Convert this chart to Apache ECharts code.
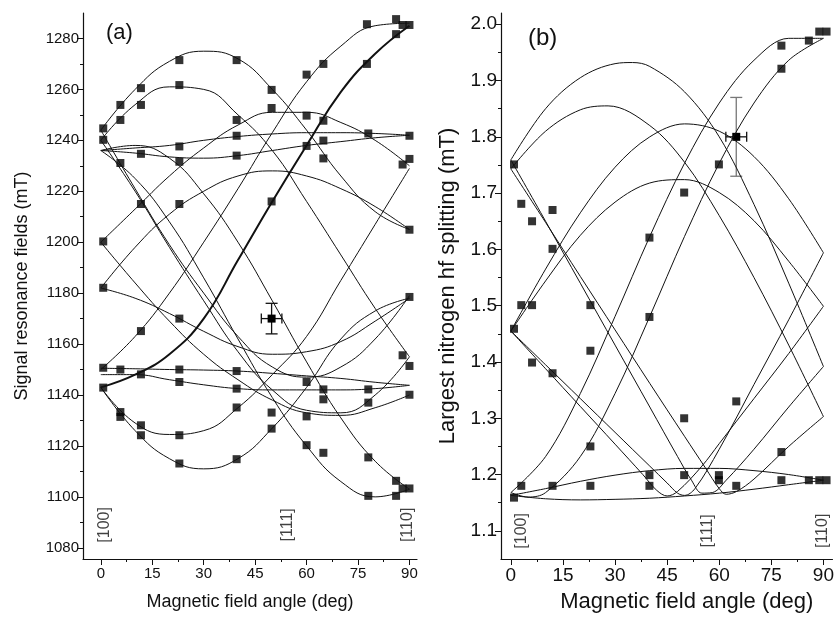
<!DOCTYPE html>
<html>
<head>
<meta charset="utf-8">
<script src="https://cdn.jsdelivr.net/npm/echarts@6/dist/echarts.min.js"></script>
<style>
  html, body { margin: 0; padding: 0; background: #fff; }
  #chart { width: 837px; height: 618px; }
</style>
</head>
<body>
<div id="chart"></div>
<script>
// ---- panel (a): signal resonance fields (mT) vs angle ----
const angA = [0, 10, 20, 30, 40, 50, 60, 70, 80, 90];
const archTop = [1244, 1260, 1271, 1275, 1272, 1260, 1244, 1226, 1212, 1205];
const archTop2 = [1240, 1254, 1261, 1260, 1250, 1236, 1216, 1195, 1174, 1155];
const flatHi1 = [1236, 1237, 1238, 1240, 1241.5, 1242.5, 1243, 1243, 1242.7, 1242];
const flatHi2 = [1236, 1235, 1233.5, 1233, 1234, 1236, 1238, 1239.5, 1241, 1242];
const archMid = [1182, 1198, 1211, 1220, 1226, 1228, 1226, 1221, 1214, 1205];
const archMid2 = [1200, 1213, 1226, 1237, 1246, 1251, 1251, 1247, 1240, 1230];
const bowlMid = [1182, 1178, 1172, 1165, 1159, 1156, 1157, 1161, 1169, 1178];
const fallA = [1236, 1238, 1233, 1219, 1200, 1177, 1153, 1131, 1114, 1103];
const fallB = [1236, 1225, 1208, 1186, 1162, 1139, 1120, 1106, 1100, 1103];
const fallC = [1240, 1220, 1198, 1177, 1157, 1142, 1134, 1133, 1140, 1155];
const fallD = [1244, 1221, 1199, 1180, 1163, 1151, 1147, 1151, 1162, 1179];
const fallE = [1200, 1184, 1169, 1156, 1146, 1138, 1133, 1132, 1135, 1140];
const riseThick = [1143, 1148, 1156, 1170, 1193, 1216, 1238, 1259, 1274, 1285];
const riseThin = [1150, 1163, 1180, 1200, 1221, 1243, 1263, 1277, 1285, 1286];
const flatLo1 = [1150.5, 1150.3, 1150, 1149.8, 1149.4, 1148.5, 1147.5, 1146.5, 1145, 1143.8];
const flatLo2 = [1148, 1148, 1146, 1144, 1142.5, 1142, 1142, 1142, 1142.5, 1143.8];
const bowlLo1 = [1143, 1126, 1115, 1111, 1115, 1127, 1143, 1162, 1173, 1178];
const bowlLo2 = [1143, 1129, 1124.5, 1126, 1135, 1148, 1163, 1185, 1207, 1229];
const curvesA = [archTop, archTop2, flatHi1, flatHi2, archMid, archMid2, bowlMid, fallA, fallB,
  fallC, fallD, fallE, riseThin, flatLo1, flatLo2, bowlLo1, bowlLo2];

const pointsA = [[0.7,1244.7],[0.7,1240.2],[5.7,1253.9],[5.7,1248],[11.7,1260.5],[11.7,1253.9],
  [22.9,1271.5],[22.9,1261.7],[39.6,1271.5],[49.8,1259.8],[49.8,1252.7],[39.6,1248],[39.6,1241.8],
  [39.6,1234],[22.9,1237.6],[22.9,1231.6],[11.7,1234.7],[5.7,1231.1],[60,1249.7],[60,1237.8],
  [64.9,1247.7],[64.9,1239.9],[64.9,1232.9],[60,1265.8],[64.9,1270],[77.6,1285.6],[77.6,1270],
  [86.1,1287.6],[86.1,1281.7],[88,1285.3],[90,1285.3],[78,1242.7],[90,1241.8],[90,1232.7],
  [88,1230.5],[49.8,1216],[11.7,1215],[22.9,1215],[0.7,1200.3],[90,1204.9],[0.7,1182.1],
  [90,1178.5],[22.9,1170],[11.7,1165.1],[88,1155.6],[90,1151.4],[0.7,1150.7],[5.7,1150],
  [22.9,1150],[39.6,1149.4],[11.7,1148.1],[60,1145.1],[22.9,1145.1],[39.6,1142.5],[64.9,1142.2],
  [78,1142.2],[90,1140.1],[0.7,1142.9],[64.9,1138.3],[78,1137],[39.6,1135.1],[49.8,1133.1],
  [60,1131.6],[5.7,1133.3],[5.7,1131.4],[11.7,1128.1],[11.7,1124.2],[22.9,1124.2],[49.8,1126.8],
  [60,1120.3],[64.9,1117.3],[78,1115.5],[39.6,1114.8],[22.9,1113.1],[78,1100.4],[86.1,1106.3],
  [86.1,1100.4],[88,1103.3],[90,1103.3]];
// [angle, value, angle error, value error]
const errA = [[49.8, 1170, 3, 6]];

// ---- panel (b): largest nitrogen hf splitting (mT) vs angle ----
const hfUp1 = [[0,1.759],[10,1.85],[20,1.905],[30,1.93],[35,1.932],[40,1.925],[50,1.88],[60,1.80],[70,1.68],[80,1.54],[90,1.392]];
const hfDn1 = [[0,1.759],[10,1.65],[20,1.54],[30,1.43],[40,1.32],[48,1.232],[52,1.19],[55,1.167],[58,1.168],[62,1.19],[70,1.245],[80,1.32],[90,1.392]];
const hfUp2 = [[0,1.743],[10,1.81],[20,1.848],[28,1.855],[40,1.82],[50,1.755],[60,1.66],[70,1.55],[80,1.43],[90,1.303]];
const hfDn2 = [[0,1.743],[10,1.648],[20,1.552],[30,1.457],[40,1.362],[50,1.268],[56,1.212],[60,1.175],[62,1.165],[65,1.17],[70,1.192],[80,1.25],[90,1.303]];
const hfUp3 = [[0,1.455],[10,1.565],[20,1.665],[30,1.746],[40,1.800],[50,1.823],[60,1.81],[70,1.765],[80,1.69],[90,1.594]];
const hfDn3 = [[0,1.455],[10,1.395],[20,1.335],[30,1.275],[40,1.215],[45,1.185],[48,1.167],[50,1.163],[53,1.175],[60,1.245],[70,1.36],[80,1.475],[90,1.594]];
const hfUp4 = [[0,1.455],[10,1.544],[20,1.625],[30,1.684],[40,1.718],[50,1.724],[60,1.701],[70,1.651],[80,1.579],[90,1.499]];
const hfDn4 = [[0,1.455],[10,1.388],[20,1.321],[30,1.254],[38,1.2],[42,1.172],[45,1.162],[48,1.17],[55,1.215],[60,1.255],[70,1.335],[80,1.415],[90,1.499]];
const hfRise1 = [[0,1.168],[10,1.232],[20,1.344],[30,1.481],[40,1.623],[50,1.753],[60,1.860],[70,1.936],[80,1.975],[90,1.975]];
const hfRise2 = [[0,1.168],[5,1.16],[10,1.168],[20,1.232],[30,1.344],[40,1.481],[50,1.623],[60,1.753],[70,1.860],[80,1.936],[90,1.975]];
const hfLow1 = [[0,1.163],[10,1.175],[20,1.188],[30,1.199],[40,1.207],[50,1.211],[60,1.211],[70,1.207],[80,1.200],[90,1.190]];
const hfLow2 = [[0,1.163],[10,1.157],[20,1.155],[30,1.156],[40,1.158],[50,1.162],[60,1.167],[70,1.174],[80,1.182],[90,1.190]];
const curvesB = [hfUp1, hfDn1, hfUp2, hfDn2, hfUp3, hfDn3, hfUp4, hfDn4, hfRise1, hfRise2, hfLow1, hfLow2];

const pointsB = [[0.9,1.751],[3,1.681],[6.1,1.650],[12,1.670],[12,1.601],[39.9,1.621],[49.9,1.701],
  [59.9,1.751],[77.9,1.921],[77.9,1.962],[85.8,1.971],[88.8,1.987],[90.9,1.987],[0.9,1.459],
  [3,1.501],[6.1,1.501],[6.1,1.399],[12,1.380],[22.9,1.501],[22.9,1.420],[22.9,1.250],[39.9,1.480],
  [49.9,1.300],[64.9,1.330],[77.9,1.240],[0.9,1.159],[3,1.180],[12,1.180],[22.9,1.180],[39.9,1.199],
  [39.9,1.180],[49.9,1.199],[59.9,1.199],[59.9,1.19],[64.9,1.180],[77.9,1.19],[85.8,1.19],
  [88.8,1.19],[90.9,1.19]];
const errB = [[64.9, 1.80, 3, 0.07]];

// tick positions
const angTicks = [0, 15, 30, 45, 60, 75, 90];
const angMinor = [7.5, 22.5, 37.5, 52.5, 67.5, 82.5];
const fieldTicks = [1080, 1100, 1120, 1140, 1160, 1180, 1200, 1220, 1240, 1260, 1280];
const fieldMinor = [1090, 1110, 1130, 1150, 1170, 1190, 1210, 1230, 1250, 1270];
const hfTicks = [1.1, 1.2, 1.3, 1.4, 1.5, 1.6, 1.7, 1.8, 1.9, 2.0];
const hfMinor = [1.15, 1.25, 1.35, 1.45, 1.55, 1.65, 1.75, 1.85, 1.95];

const orientNames = ['[100]', '[111]', '[110]'];
const orientA = [[1.2, 1089], [54.6, 1089], [89.6, 1089]];
const orientB = [[3, 1.10], [56.6, 1.10], [89.7, 1.10]];

const FONT = 'Liberation Sans, Arial, sans-serif';
const INK = '#111';

const chart = echarts.init(document.getElementById('chart'), null, { renderer: 'canvas' });

function mainX(grid, min, max, fs, title, gap, pad) {
  return {
    type: 'value', gridIndex: grid, min: min, max: max, position: 'bottom',
    name: title, nameLocation: 'middle', nameGap: gap,
    nameTextStyle: { fontFamily: FONT, fontSize: fs + 3, color: INK, padding: pad },
    axisLine: { show: true, onZero: false, lineStyle: { color: INK, width: 1.2 } },
    axisTick: { show: true, customValues: angTicks, length: 6, lineStyle: { color: INK } },
    axisLabel: { customValues: angTicks, fontFamily: FONT, fontSize: fs, color: INK, margin: 7 },
    splitLine: { show: false }
  };
}
function minorX(grid, min, max) {
  return {
    type: 'value', gridIndex: grid, min: min, max: max, position: 'bottom',
    axisLine: { show: false, onZero: false }, axisLabel: { show: false }, splitLine: { show: false },
    axisTick: { show: true, customValues: angMinor, length: 3, lineStyle: { color: INK } }
  };
}
function mainY(grid, min, max, ticks, fs, title, gap, fmt) {
  return {
    type: 'value', gridIndex: grid, min: min, max: max, position: 'left',
    name: title, nameLocation: 'middle', nameGap: gap,
    nameTextStyle: { fontFamily: FONT, fontSize: fs + 3, color: INK },
    axisLine: { show: true, onZero: false, lineStyle: { color: INK, width: 1.2 } },
    axisTick: { show: true, customValues: ticks, length: 6, lineStyle: { color: INK } },
    axisLabel: { customValues: ticks, fontFamily: FONT, fontSize: fs, color: INK, margin: 4, formatter: fmt },
    splitLine: { show: false }
  };
}
function minorY(grid, min, max, ticks) {
  return {
    type: 'value', gridIndex: grid, min: min, max: max, position: 'left',
    axisLine: { show: false, onZero: false }, axisLabel: { show: false }, splitLine: { show: false },
    axisTick: { show: true, customValues: ticks, length: 3, lineStyle: { color: INK } }
  };
}

function errRender(vColor) {
  return function (params, api) {
    const x = api.value(0), y = api.value(1), dx = api.value(2), dy = api.value(3);
    const l = api.coord([x - dx, y]), r = api.coord([x + dx, y]);
    const t = api.coord([x, y + dy]), b = api.coord([x, y - dy]);
    const c = api.coord([x, y]);
    const hs = { stroke: INK, lineWidth: 1.3 };
    const vs = { stroke: vColor, lineWidth: 1.3 };
    const capV = 6, capH = 5;
    return {
      type: 'group',
      children: [
        { type: 'line', shape: { x1: l[0], y1: l[1], x2: r[0], y2: r[1] }, style: hs },
        { type: 'line', shape: { x1: l[0], y1: l[1] - capH, x2: l[0], y2: l[1] + capH }, style: hs },
        { type: 'line', shape: { x1: r[0], y1: r[1] - capH, x2: r[0], y2: r[1] + capH }, style: hs },
        { type: 'line', shape: { x1: t[0], y1: t[1], x2: b[0], y2: b[1] }, style: vs },
        { type: 'line', shape: { x1: t[0] - capV, y1: t[1], x2: t[0] + capV, y2: t[1] }, style: vs },
        { type: 'line', shape: { x1: b[0] - capV, y1: b[1], x2: b[0] + capV, y2: b[1] }, style: vs },
        { type: 'rect', shape: { x: c[0] - 4, y: c[1] - 4, width: 8, height: 8 }, style: { fill: '#000' } }
      ]
    };
  };
}

const series = [];
curvesA.forEach(function (c) {
  series.push({
    type: 'line', xAxisIndex: 0, yAxisIndex: 0, smooth: 0.45, symbol: 'none', silent: true,
    data: angA.map(function (a, i) { return [a, c[i]]; }),
    lineStyle: { color: INK, width: 1 }
  });
});
series.push({
  type: 'line', xAxisIndex: 0, yAxisIndex: 0, smooth: 0.45, symbol: 'none', silent: true,
  data: angA.map(function (a, i) { return [a, riseThick[i]]; }),
  lineStyle: { color: INK, width: 2 }
});
series.push({
  type: 'scatter', xAxisIndex: 0, yAxisIndex: 0, symbol: 'rect', symbolSize: 8,
  data: pointsA, itemStyle: { color: '#000' }
});
series.push({
  type: 'custom', xAxisIndex: 0, yAxisIndex: 0, data: errA, renderItem: errRender(INK)
});
series.push({
  type: 'scatter', xAxisIndex: 0, yAxisIndex: 0, symbolSize: 0,
  data: orientA.map(function (p, i) { return { value: p, name: orientNames[i] }; }),
  label: { show: true, position: 'inside', rotate: 90, formatter: function (p) { return p.name; },
    fontFamily: FONT, fontSize: 16, color: INK }
});

curvesB.forEach(function (c) {
  series.push({
    type: 'line', xAxisIndex: 1, yAxisIndex: 1, smooth: 0.35, symbol: 'none', silent: true,
    data: c, lineStyle: { color: INK, width: 1 }
  });
});
series.push({
  type: 'scatter', xAxisIndex: 1, yAxisIndex: 1, symbol: 'rect', symbolSize: 8,
  data: pointsB, itemStyle: { color: '#000' }
});
series.push({
  type: 'custom', xAxisIndex: 1, yAxisIndex: 1, data: errB, renderItem: errRender('#777')
});
series.push({
  type: 'scatter', xAxisIndex: 1, yAxisIndex: 1, symbolSize: 0,
  data: orientB.map(function (p, i) { return { value: p, name: orientNames[i] }; }),
  label: { show: true, position: 'inside', rotate: 90, formatter: function (p) { return p.name; },
    fontFamily: FONT, fontSize: 16, color: INK }
});

chart.setOption({
  backgroundColor: '#fff',
  animation: false,
  grid: [
    { left: 83, top: 13, width: 334, height: 546 },
    { left: 501, top: 13, width: 336, height: 546 }
  ],
  xAxis: [
    mainX(0, -5.2, 92.2, 15, 'Magnetic field angle (deg)', 34, [0, 0, 0, 0]),
    mainX(1, -2.84, 92.6, 19, 'Magnetic field angle (deg)', 32, [0, 0, 0, 40]),
    minorX(0, -5.2, 92.2),
    minorX(1, -2.84, 92.6)
  ],
  yAxis: [
    mainY(0, 1075.6, 1290, fieldTicks, 15, 'Signal resonance fields (mT)', 52,
      function (v) { return String(v); }),
    mainY(1, 1.05, 2.02, hfTicks, 19, 'Largest nitrogen hf splitting (mT)', 42,
      function (v) { return v.toFixed(1); }),
    minorY(0, 1075.6, 1290, fieldMinor),
    minorY(1, 1.05, 2.02, hfMinor)
  ],
  graphic: [
    { type: 'text', left: 106, top: 22, style: { text: '(a)', fontFamily: FONT, fontSize: 22, fill: INK } },
    { type: 'text', left: 528, top: 26, style: { text: '(b)', fontFamily: FONT, fontSize: 24, fill: INK } }
  ],
  series: series
});
</script>
</body>
</html>
